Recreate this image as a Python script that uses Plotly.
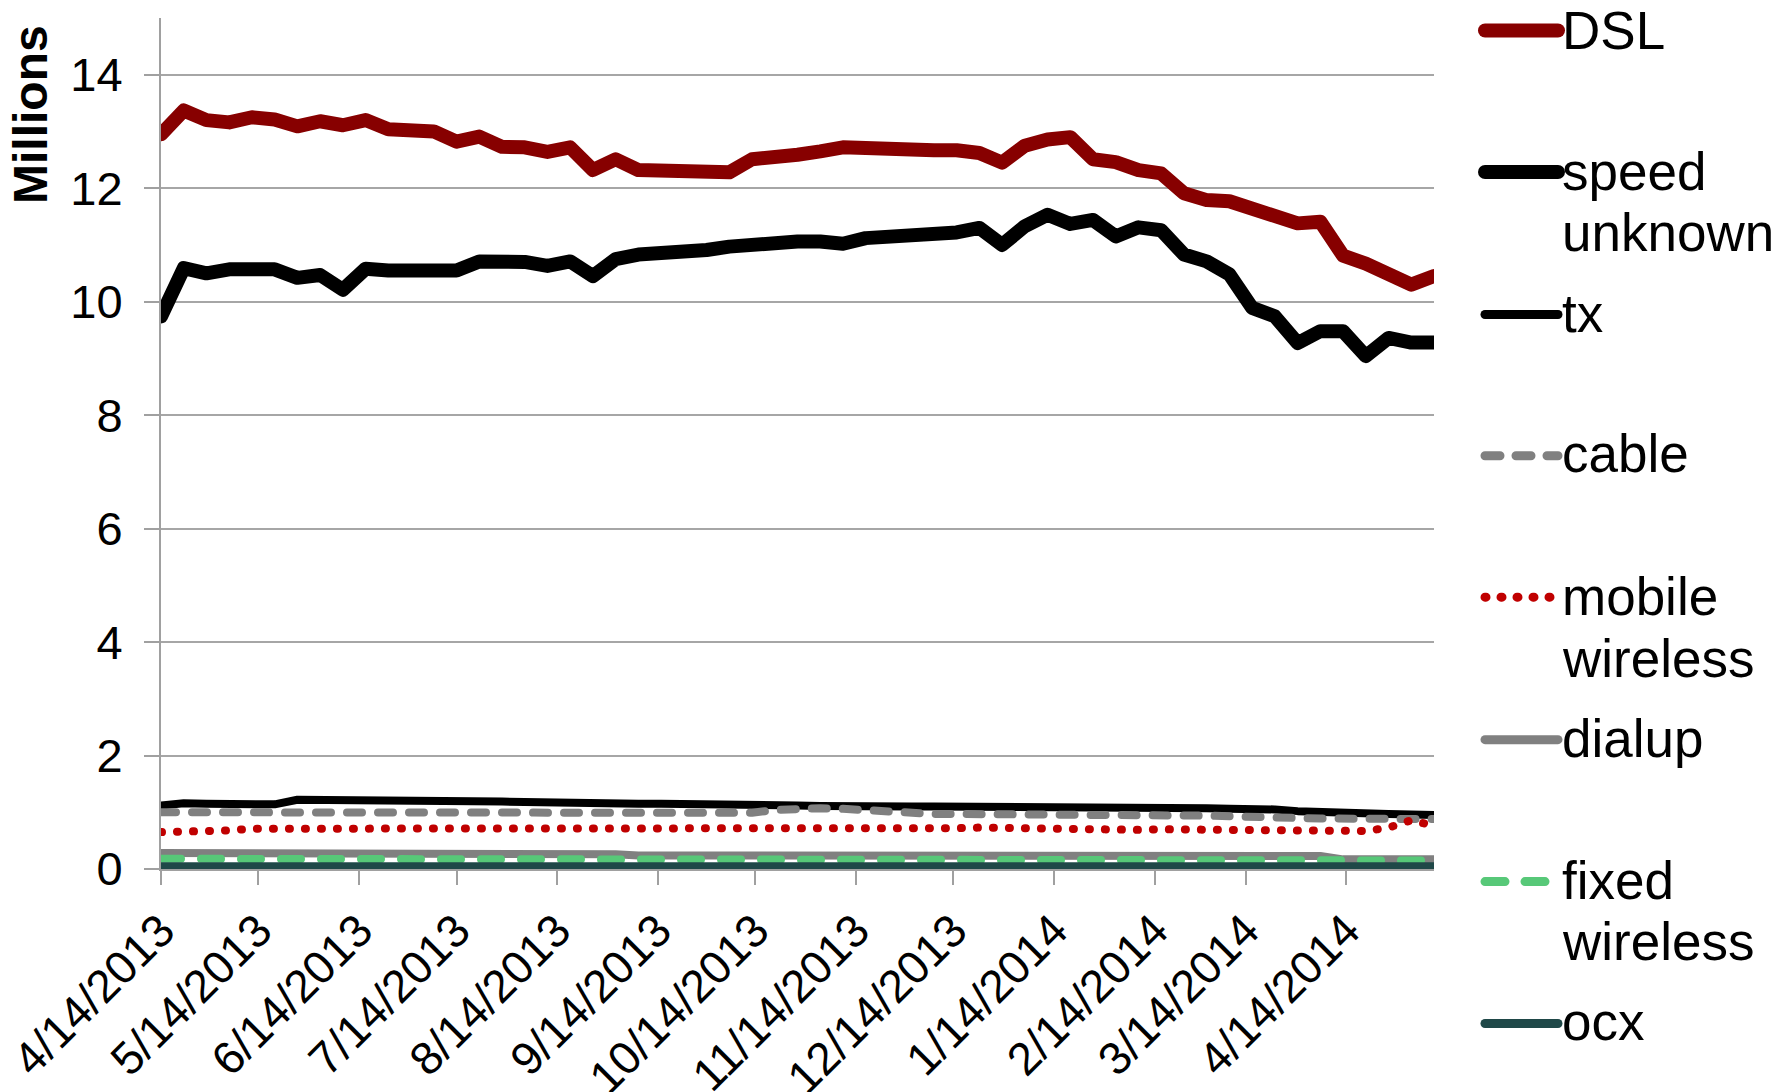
import pandas as pd
import plotly.graph_objects as go

# ---------------- data ----------------
dates = pd.date_range("2013-04-14", periods=57, freq="7D")

dsl = [12.95, 13.37, 13.20, 13.16, 13.25, 13.21, 13.09, 13.18, 13.11, 13.20,
       13.04, 13.01, 13.00, 12.82, 12.91, 12.73, 12.72, 12.64, 12.72, 12.32,
       12.51, 12.32, 12.31, 12.30, 12.28, 12.28, 12.51, 12.53, 12.59, 12.65,
       12.72, 12.71, 12.68, 12.66, 12.67, 12.67, 12.62, 12.45, 12.75, 12.86,
       12.90, 12.51, 12.46, 12.32, 12.26, 11.91, 11.79, 11.77, 11.62, 11.53,
       11.38, 11.41, 10.81, 10.67, 10.47, 10.30, 10.45]

speed_unknown = [9.74, 10.59, 10.50, 10.57, 10.57, 10.57, 10.42, 10.47, 10.21, 10.58,
                 10.55, 10.55, 10.56, 10.55, 10.71, 10.71, 10.70, 10.63, 10.71, 10.45,
                 10.75, 10.83, 10.84, 10.87, 10.91, 10.97, 11.01, 11.04, 11.06, 11.06,
                 11.02, 11.12, 11.13, 11.14, 11.18, 11.22, 11.30, 11.00, 11.33, 11.53,
                 11.37, 11.44, 11.15, 11.31, 11.26, 10.83, 10.71, 10.48, 9.89, 9.74,
                 9.27, 9.48, 9.48, 9.04, 9.36, 9.28, 9.28]

tx = [1.12, 1.16, 1.15, 1.15, 1.15, 1.14, 1.22, 1.22, 1.22, 1.21,
      1.21, 1.21, 1.21, 1.20, 1.19, 1.19, 1.18, 1.17, 1.17, 1.14,
      1.16, 1.15, 1.15, 1.15, 1.15, 1.14, 1.14, 1.13, 1.12, 1.11,
      1.10, 1.10, 1.10, 1.10, 1.10, 1.10, 1.10, 1.10, 1.10, 1.10,
      1.09, 1.09, 1.08, 1.08, 1.08, 1.07, 1.07, 1.06, 1.06, 1.05,
      1.02, 1.00, 0.99, 0.98, 0.97, 0.96, 0.95]

cable = [1.00, 1.00, 1.00, 1.00, 1.00, 0.99, 0.99, 0.99, 0.99, 1.00,
         1.00, 1.00, 1.00, 0.99, 0.99, 0.99, 0.99, 0.98, 0.98, 0.98,
         0.98, 0.98, 0.98, 0.98, 0.98, 0.98, 0.99, 1.04, 1.07, 1.07,
         1.06, 1.04, 0.99, 0.97, 0.97, 0.97, 0.97, 0.97, 0.97, 0.97,
         0.97, 0.96, 0.96, 0.95, 0.95, 0.94, 0.94, 0.93, 0.91, 0.90,
         0.90, 0.89, 0.89, 0.88, 0.88, 0.88, 0.88]

mobile_wireless = [0.65, 0.65, 0.66, 0.68, 0.71, 0.71, 0.71, 0.71, 0.70, 0.69,
                   0.69, 0.69, 0.69, 0.69, 0.70, 0.70, 0.70, 0.70, 0.70, 0.70,
                   0.71, 0.71, 0.71, 0.71, 0.71, 0.71, 0.71, 0.72, 0.72, 0.72,
                   0.72, 0.72, 0.72, 0.72, 0.72, 0.72, 0.73, 0.72, 0.71, 0.70,
                   0.69, 0.69, 0.69, 0.69, 0.70, 0.70, 0.69, 0.69, 0.70, 0.69,
                   0.67, 0.67, 0.67, 0.67, 0.73, 0.86, 0.76]

dialup = [0.28, 0.28, 0.28, 0.28, 0.28, 0.28, 0.27, 0.27, 0.27, 0.27,
          0.27, 0.27, 0.27, 0.26, 0.26, 0.26, 0.26, 0.26, 0.26, 0.26,
          0.26, 0.24, 0.24, 0.24, 0.24, 0.24, 0.24, 0.24, 0.24, 0.24,
          0.24, 0.23, 0.23, 0.23, 0.23, 0.23, 0.23, 0.23, 0.23, 0.23,
          0.23, 0.23, 0.23, 0.23, 0.23, 0.23, 0.23, 0.23, 0.23, 0.23,
          0.23, 0.23, 0.17, 0.17, 0.17, 0.17, 0.17]

fixed_wireless = [0.18, 0.18, 0.17, 0.16, 0.16, 0.16, 0.16, 0.16, 0.16, 0.16,
                  0.16, 0.16, 0.16, 0.16, 0.16, 0.16, 0.16, 0.15, 0.15, 0.15,
                  0.15, 0.15, 0.15, 0.15, 0.15, 0.15, 0.15, 0.15, 0.15, 0.15,
                  0.15, 0.15, 0.15, 0.15, 0.15, 0.15, 0.15, 0.15, 0.15, 0.15,
                  0.15, 0.15, 0.15, 0.15, 0.15, 0.15, 0.15, 0.15, 0.15, 0.15,
                  0.15, 0.15, 0.15, 0.15, 0.15, 0.15, 0.15]

ocx = [0.05] * 57

tick_dates = ["2013-04-14", "2013-05-14", "2013-06-14", "2013-07-14", "2013-08-14",
              "2013-09-14", "2013-10-14", "2013-11-14", "2013-12-14", "2014-01-14",
              "2014-02-14", "2014-03-14", "2014-04-14"]
tick_labels = ["4/14/2013", "5/14/2013", "6/14/2013", "7/14/2013", "8/14/2013",
               "9/14/2013", "10/14/2013", "11/14/2013", "12/14/2013", "1/14/2014",
               "2/14/2014", "3/14/2014", "4/14/2014"]
y_ticks = [0, 2, 4, 6, 8, 10, 12, 14]

series_names = ["DSL", "speed unknown", "tx", "cable", "mobile wireless",
                "dialup", "fixed wireless", "ocx"]
legend_lines = [["DSL"], ["speed", "unknown"], ["tx"], ["cable"],
                ["mobile", "wireless"], ["dialup"], ["fixed", "wireless"], ["ocx"]]
series_values = [dsl, speed_unknown, tx, cable, mobile_wireless, dialup,
                 fixed_wireless, ocx]

# ---------------- styles ----------------
colors = ["#870000", "#000000", "#000000", "#808080", "#C00000",
          "#808080", "#57C878", "#1F4848"]
widths = [14, 14, 8, 8, 8, 8, 8, 8]
dashes = ["solid", "solid", "solid", "15px,16px", "1px,15px",
          "solid", "20px,20px", "solid"]

W, H = 1792, 1092
L, R, T, B = 161, 1434, 18, 869.4
FONT = "Liberation Sans, Arial, sans-serif"
FS = 46
LEG_FS = 53

def px2x(px):
    return (px - L) / (R - L)

def px2y(py):
    return (B - py) / (B - T)

fig = go.Figure()
for name, vals, c, w, d in zip(series_names, series_values, colors, widths, dashes):
    fig.add_trace(go.Scatter(x=dates, y=vals, mode="lines", name=name,
                             line=dict(color=c, width=w, dash=d),
                             showlegend=False, hoverinfo="skip"))

# manual legend (pixel positions in the 1792x1092 page)
leg_line_y = [30.5, 172, 314.6, 456, 597.4, 740, 882, 1024]
leg_baseline_y = [48.4, 189.4, 331.5, 471.8, 615, 756.5, 899, 1039.8]
LINE_GAP = 61.4
shapes = []
annotations = []
for i in range(len(series_names)):
    w = 14 if i < 2 else 9
    shapes.append(dict(type="line", xref="paper", yref="paper",
                       x0=px2x(1485), x1=px2x(1558),
                       y0=px2y(leg_line_y[i]), y1=px2y(leg_line_y[i]),
                       line=dict(color=colors[i], width=w, dash=dashes[i])))
    for k, txt in enumerate(legend_lines[i]):
        base = leg_baseline_y[i] + k * LINE_GAP
        annotations.append(dict(text=txt, xref="paper", yref="paper",
                                x=px2x(1560), y=px2y(base - 0.34 * LEG_FS),
                                xanchor="left", yanchor="middle", align="left",
                                showarrow=False,
                                font=dict(family=FONT, size=LEG_FS, color="#000000")))

annotations.append(dict(text="<b>Millions</b>", xref="paper", yref="paper",
                        x=px2x(31), y=px2y(115), xanchor="center", yanchor="middle",
                        textangle=-90, showarrow=False,
                        font=dict(family=FONT, size=48, color="#000000")))

fig.update_layout(
    width=W, height=H,
    margin=dict(l=L, r=W - R, t=T, b=H - B, pad=0),
    paper_bgcolor="white", plot_bgcolor="white",
    font=dict(family=FONT, size=FS, color="#000000"),
    shapes=shapes, annotations=annotations,
    xaxis=dict(type="date", range=[dates[0], dates[-1]],
               tickmode="array", tickvals=tick_dates, ticktext=tick_labels,
               tickangle=-45, ticks="outside", ticklen=14, tickwidth=2,
               tickcolor="#A0A0A0", showgrid=False, showline=True,
               linecolor="#A0A0A0", linewidth=2, zeroline=False,
               automargin=False, tickfont=dict(family=FONT, size=FS)),
    yaxis=dict(range=[0, 15], tickmode="array", tickvals=y_ticks,
               ticks="outside", ticklen=15, tickwidth=2, tickcolor="#A0A0A0",
               showgrid=True, gridcolor="#A6A6A6", gridwidth=2,
               showline=True, linecolor="#A0A0A0", linewidth=2,
               zeroline=False, automargin=False, ticklabelstandoff=12,
               tickfont=dict(family=FONT, size=47)),
)

post = """
var els = document.querySelectorAll('.scatterlayer path.js-line, .shapelayer path');
els.forEach(function(p){ p.style.strokeLinecap='round'; p.style.strokeLinejoin='round'; });
"""
fig.write_html("out.html", post_script=post)
